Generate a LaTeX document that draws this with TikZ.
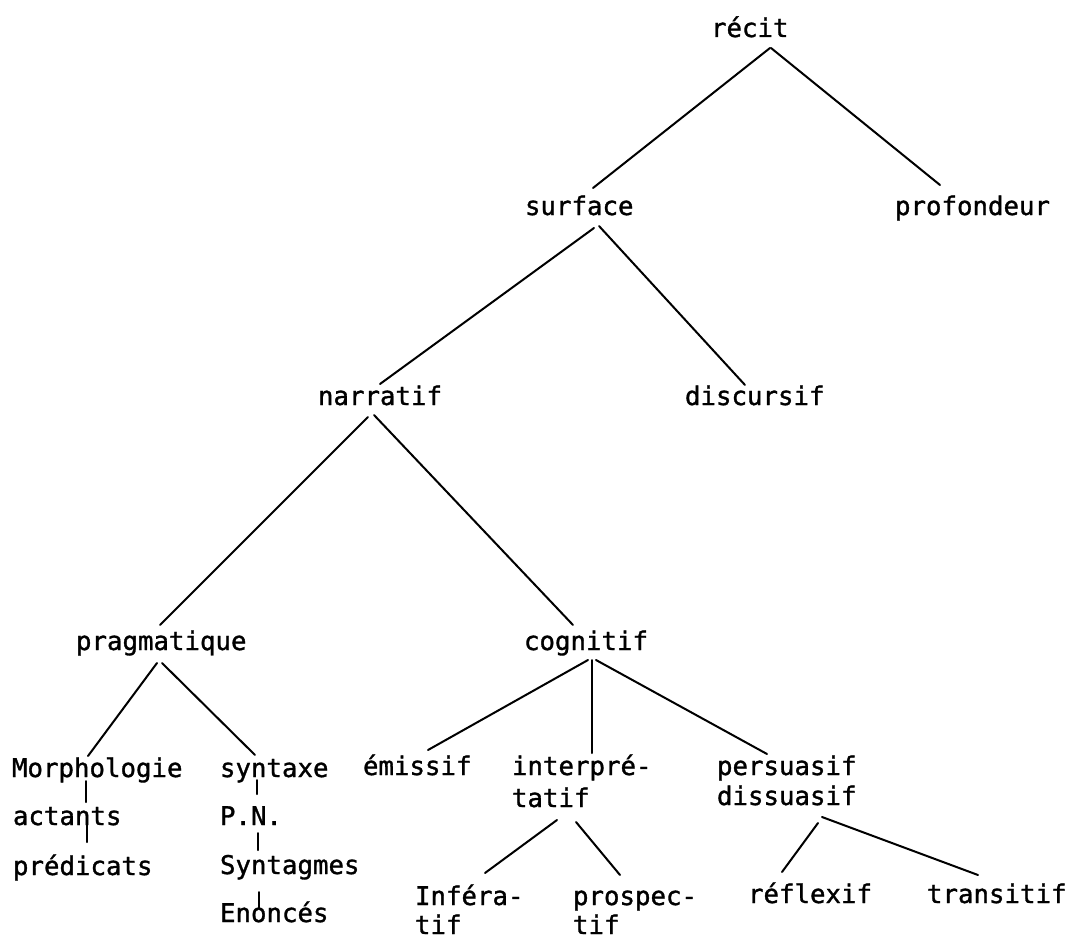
\documentclass[tikz,border=0pt]{standalone}
\usepackage{fontspec}
\setmainfont[FakeBold=1.2]{DejaVu Sans Mono}
\begin{document}
\begin{tikzpicture}[x=1pt,y=-1pt,
  lbl/.style={inner sep=0pt, outer sep=0pt, anchor=base west, font=\fontsize{25.75pt}{31pt}\selectfont},
  edge/.style={line width=2pt, line cap=round}]
\useasboundingbox[fill=white] (0,0) rectangle (1073,939);
% nodes
\node[lbl] (recit) at (711,37) {récit};
\node[lbl] (surface) at (525,215) {surface};
\node[lbl] (profondeur) at (895,215) {profondeur};
\node[lbl] (narratif) at (318,405) {narratif};
\node[lbl] (discursif) at (685,405) {discursif};
\node[lbl] (pragmatique) at (76,650) {pragmatique};
\node[lbl] (cognitif) at (524,650) {cognitif};
\node[lbl] (morpho) at (12,777) {Morphologie};
\node[lbl] (actants) at (13,825) {actants};
\node[lbl] (predicats) at (13,875) {prédicats};
\node[lbl] (syntaxe) at (220,777) {syntaxe};
\node[lbl] (pn) at (220,825) {P.N.};
\node[lbl] (syntagmes) at (220,874) {Syntagmes};
\node[lbl] (enonces) at (220,922) {Enoncés};
\node[lbl] (emissif) at (363,775) {émissif};
\node[lbl] (interpA) at (512,775) {interpré-};
\node[lbl] (interpB) at (512,807) {tatif};
\node[lbl] (persuasif) at (717,775) {persuasif};
\node[lbl] (dissuasif) at (717,805) {dissuasif};
\node[lbl] (inferaA) at (415,905) {Inféra-};
\node[lbl] (inferaB) at (415,934) {tif};
\node[lbl] (prospA) at (573,905) {prospec-};
\node[lbl] (prospB) at (573,934) {tif};
\node[lbl] (reflexif) at (748,903) {réflexif};
\node[lbl] (transitif) at (927,903) {transitif};
% connectors
\draw[edge] ([shift={(59,11)}]recit.base west) -- ([shift={(68,-27)}]surface.base west);
\draw[edge] ([shift={(60,11)}]recit.base west) -- ([shift={(45,-30)}]profondeur.base west);
\draw[edge] ([shift={(69,13)}]surface.base west) -- ([shift={(62,-21)}]narratif.base west);
\draw[edge] ([shift={(74,11)}]surface.base west) -- ([shift={(60,-20)}]discursif.base west);
\draw[edge] ([shift={(50,12)}]narratif.base west) -- ([shift={(84,-25)}]pragmatique.base west);
\draw[edge] ([shift={(56,10)}]narratif.base west) -- ([shift={(49,-25)}]cognitif.base west);
\draw[edge] ([shift={(81,13)}]pragmatique.base west) -- ([shift={(76,-21)}]morpho.base west);
\draw[edge] ([shift={(86,13)}]pragmatique.base west) -- ([shift={(35,-22)}]syntaxe.base west);
\draw[edge] ([shift={(64,10)}]cognitif.base west) -- ([shift={(65,-25)}]emissif.base west);
\draw[edge] ([shift={(68,10)}]cognitif.base west) -- ([shift={(80,-22)}]interpA.base west);
\draw[edge] ([shift={(72,10)}]cognitif.base west) -- ([shift={(50,-21)}]persuasif.base west);
\draw[edge] ([shift={(74,4)}]morpho.base west) -- ([shift={(73,-23)}]actants.base west);
\draw[edge] ([shift={(74,-7)}]actants.base west) -- ([shift={(74,-33)}]predicats.base west);
\draw[edge] ([shift={(37,3)}]syntaxe.base west) -- ([shift={(37,-31)}]pn.base west);
\draw[edge] ([shift={(38,8)}]pn.base west) -- ([shift={(38,-24)}]syntagmes.base west);
\draw[edge] ([shift={(39,18)}]syntagmes.base west) -- ([shift={(39,-14)}]enonces.base west);
\draw[edge] ([shift={(45,13)}]interpB.base west) -- ([shift={(70,-32)}]inferaA.base west);
\draw[edge] ([shift={(64,15)}]interpB.base west) -- ([shift={(47,-30)}]prospA.base west);
\draw[edge] ([shift={(101,18)}]dissuasif.base west) -- ([shift={(34,-31)}]reflexif.base west);
\draw[edge] ([shift={(105,12)}]dissuasif.base west) -- ([shift={(51,-28)}]transitif.base west);
\end{tikzpicture}
\end{document}
